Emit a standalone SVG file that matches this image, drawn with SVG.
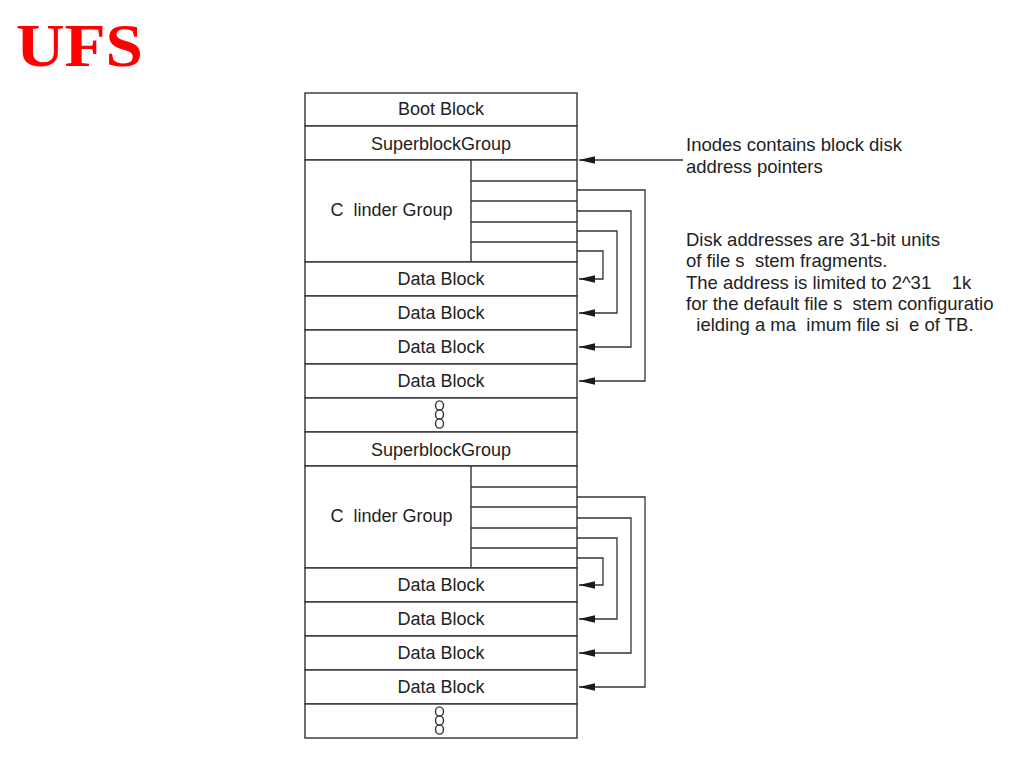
<svg xmlns="http://www.w3.org/2000/svg" width="1013" height="769" viewBox="0 0 1013 769">
<defs>
<style>
.box{fill:#fff;stroke:#333;stroke-width:1.4}
.ln{fill:none;stroke:#333;stroke-width:1.4}
.lbl{font-family:"Liberation Sans",Arial,sans-serif;font-size:18px;fill:#222;text-anchor:middle;white-space:pre}
.note{font-family:"Liberation Sans",Arial,sans-serif;font-size:18.5px;fill:#222;white-space:pre}
.dot{fill:none;stroke:#333;stroke-width:1.4}
.conn{fill:none;stroke:#333;stroke-width:1.3;marker-end:url(#ah)}
</style>
<marker id="ah" markerWidth="17" markerHeight="9" refX="16" refY="4.5" orient="auto" markerUnits="userSpaceOnUse">
<path d="M0,0.8 L16,4.5 L0,8.2 Z" fill="#1a1a1a"/>
</marker>
</defs>
<rect width="1013" height="769" fill="#fff"/>
<text x="16" y="66" font-family="'Liberation Serif','Times New Roman',serif" font-weight="bold" font-size="61" fill="#ff0000" textLength="127" lengthAdjust="spacingAndGlyphs">UFS</text>

<g id="boot"><rect class="box" x="305" y="93" width="272" height="33"/><text class="lbl" x="441" y="115">Boot Block</text></g>
<g id="sb1"><rect class="box" x="305" y="126" width="272" height="34"/><text class="lbl" x="441" y="149.5">SuperblockGroup</text></g>
<g id="cg1"><rect class="box" x="305" y="160" width="272" height="102"/>
<path class="ln" d="M471,160 V262 M471,181 H577 M471,201 H577 M471,222 H577 M471,242 H577"/>
<text class="lbl" x="391.5" y="216">C  linder Group</text></g>
<g id="db1a"><rect class="box" x="305" y="262" width="272" height="34"/><text class="lbl" x="441" y="285">Data Block</text></g>
<g id="db1b"><rect class="box" x="305" y="296" width="272" height="34"/><text class="lbl" x="441" y="319">Data Block</text></g>
<g id="db1c"><rect class="box" x="305" y="330" width="272" height="34"/><text class="lbl" x="441" y="353">Data Block</text></g>
<g id="db1d"><rect class="box" x="305" y="364" width="272" height="34"/><text class="lbl" x="441" y="387">Data Block</text></g>
<g id="gap1"><rect class="box" x="305" y="398" width="272" height="34"/>
<ellipse class="dot" cx="439.5" cy="405.5" rx="4" ry="4.6"/><ellipse class="dot" cx="439.5" cy="414.5" rx="4" ry="4.6"/><ellipse class="dot" cx="439.5" cy="423.5" rx="4" ry="4.6"/></g>
<g id="sb2"><rect class="box" x="305" y="432" width="272" height="34"/><text class="lbl" x="441" y="455.5">SuperblockGroup</text></g>
<g id="cg2"><rect class="box" x="305" y="466" width="272" height="102"/>
<path class="ln" d="M471,466 V568 M471,487 H577 M471,507 H577 M471,528 H577 M471,548 H577"/>
<text class="lbl" x="391.5" y="522">C  linder Group</text></g>
<g id="db2a"><rect class="box" x="305" y="568" width="272" height="34"/><text class="lbl" x="441" y="591">Data Block</text></g>
<g id="db2b"><rect class="box" x="305" y="602" width="272" height="34"/><text class="lbl" x="441" y="625">Data Block</text></g>
<g id="db2c"><rect class="box" x="305" y="636" width="272" height="34"/><text class="lbl" x="441" y="659">Data Block</text></g>
<g id="db2d"><rect class="box" x="305" y="670" width="272" height="34"/><text class="lbl" x="441" y="693">Data Block</text></g>
<g id="gap2"><rect class="box" x="305" y="704" width="272" height="34"/>
<ellipse class="dot" cx="439.5" cy="711.5" rx="4" ry="4.6"/><ellipse class="dot" cx="439.5" cy="720.5" rx="4" ry="4.6"/><ellipse class="dot" cx="439.5" cy="729.5" rx="4" ry="4.6"/></g>

<g id="note1"><text class="note" x="686" y="151">Inodes contains block disk</text><text class="note" x="686" y="173">address pointers</text></g>
<g id="note2">
<text class="note" x="686" y="246">Disk addresses are 31-bit units</text>
<text class="note" x="686" y="267">of file s  stem fragments.</text>
<text class="note" x="686" y="289">The address is limited to 2^31    1k</text>
<text class="note" x="686" y="310">for the default file s  stem configuratio</text>
<text class="note" x="686" y="331">  ielding a ma  imum file si  e of TB.</text>
</g>

<g id="connectors">
<path class="conn" d="M683,160 H579"/>
<path class="conn" d="M577,190 H645 V381 H579"/>
<path class="conn" d="M577,211 H631 V347 H579"/>
<path class="conn" d="M577,231 H617 V313 H579"/>
<path class="conn" d="M577,251 H603 V279 H579"/>
<path class="conn" d="M577,497 H645 V687 H579"/>
<path class="conn" d="M577,518 H631 V653 H579"/>
<path class="conn" d="M577,538 H617 V619 H579"/>
<path class="conn" d="M577,558 H603 V585 H579"/>
</g>
</svg>
